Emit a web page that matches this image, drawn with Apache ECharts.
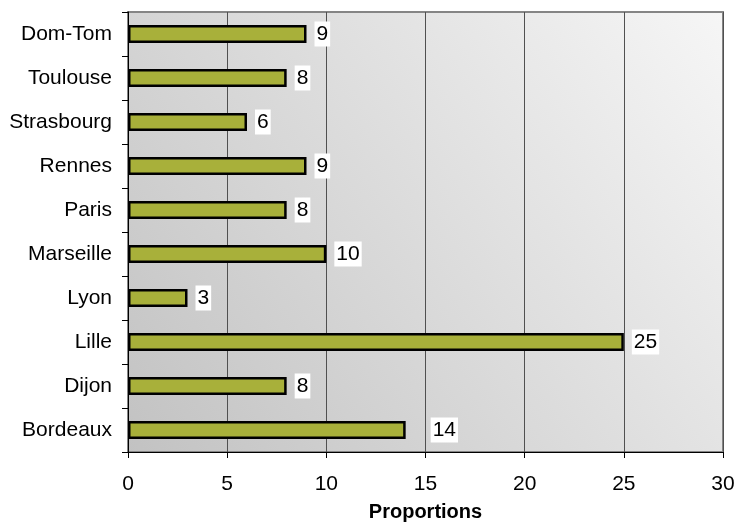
<!DOCTYPE html>
<html>
<head>
<meta charset="utf-8">
<script src="https://cdn.jsdelivr.net/npm/echarts@6/dist/echarts.min.js"></script>
<style>
  html, body { margin: 0; padding: 0; background: #ffffff; }
  #chart { width: 737px; height: 522px; }
</style>
</head>
<body>
<div id="chart"></div>
<script>
// Share of responses by city
const cities = ['Bordeaux', 'Dijon', 'Lille', 'Lyon', 'Marseille', 'Paris', 'Rennes', 'Strasbourg', 'Toulouse', 'Dom-Tom'];
const proportions = [14, 8, 25, 3, 10, 8, 9, 6, 8, 9];
const xTicks = [0, 5, 10, 15, 20, 25, 30];

const FONT = '"Liberation Sans", Arial, sans-serif';

const chart = echarts.init(document.getElementById('chart'), null, { renderer: 'canvas' });

const barData = proportions.map((v, i) => {
  const item = { value: v };
  // Bordeaux's value label sits a little further from its bar
  if (cities[i] === 'Bordeaux') item.label = { distance: 25 };
  return item;
});

chart.setOption({
  animation: false,
  grid: {
    left: 128, right: 14, top: 12, bottom: 70,
    outerBoundsMode: 'none',
    containLabel: false,
    show: true,
    borderColor: '#858585',
    borderWidth: 2,
    backgroundColor: new echarts.graphic.LinearGradient(0, 1, 1, 0, [
      { offset: 0, color: '#c2c2c2' },
      { offset: 1, color: '#f6f6f6' }
    ])
  },
  xAxis: {
    type: 'value',
    min: xTicks[0],
    max: xTicks[xTicks.length - 1],
    interval: 5,
    name: 'Proportions',
    nameLocation: 'middle',
    nameGap: 49,
    nameTextStyle: { fontFamily: FONT, fontSize: 20, fontWeight: 'bold', color: '#000', lineHeight: 22 },
    axisLine: { show: true, lineStyle: { color: '#000', width: 1 } },
    axisTick: { show: true, length: 6, lineStyle: { color: '#000' } },
    axisLabel: { fontFamily: FONT, fontSize: 21, color: '#000', margin: 22 },
    splitLine: { show: true, lineStyle: { color: '#505050', width: 1 } }
  },
  yAxis: {
    type: 'category',
    data: cities,
    axisLine: { show: true, lineStyle: { color: '#000', width: 1 } },
    axisTick: { show: true, length: 6, lineStyle: { color: '#000' } },
    axisLabel: { fontFamily: FONT, fontSize: 21, color: '#000', margin: 16 },
    splitLine: { show: false }
  },
  series: [{
    type: 'bar',
    data: barData,
    barWidth: 18,
    itemStyle: { color: '#a8b03a', borderColor: '#000', borderWidth: 2.5 },
    label: {
      show: true,
      position: 'right',
      distance: 8,
      fontFamily: FONT,
      fontSize: 21,
      color: '#000',
      backgroundColor: '#ffffff',
      padding: [3, 2, 1, 2]
    }
  }]
});
</script>
</body>
</html>
